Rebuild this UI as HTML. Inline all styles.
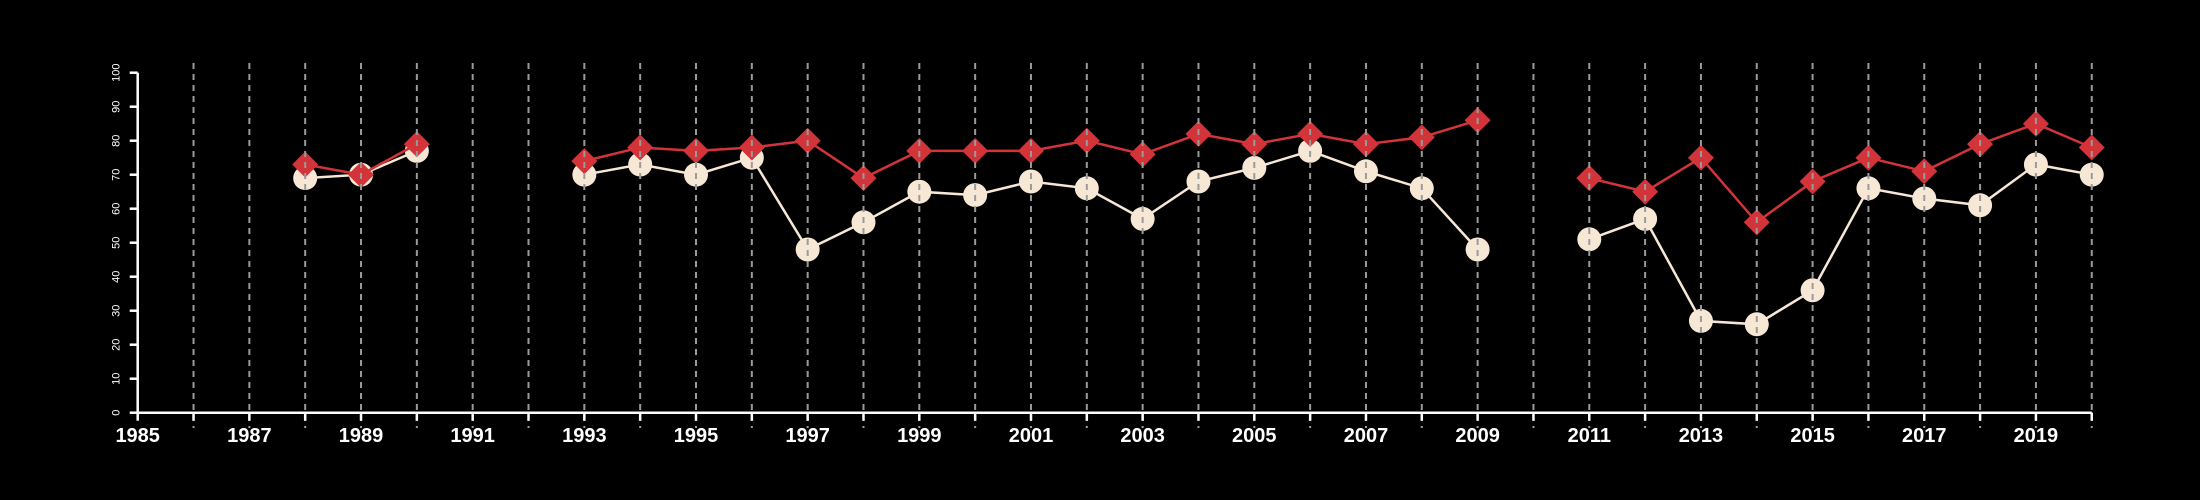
<!DOCTYPE html>
<html><head><meta charset="utf-8"><style>
html,body{margin:0;padding:0;background:#000;}
svg{display:block;font-family:"Liberation Sans",Arial,sans-serif;}
</style></head><body>
<svg id="chart" width="2200" height="500" viewBox="0 0 2200 500" xmlns="http://www.w3.org/2000/svg">
<rect width="2200" height="500" fill="#000"/>
<g id="series"></g>
<g id="grid"></g>
<g id="axes"></g>
</svg>
<script>
const years = [1985,1986,1987,1988,1989,1990,1991,1992,1993,1994,1995,1996,1997,1998,1999,2000,2001,2002,2003,2004,2005,2006,2007,2008,2009,2010,2011,2012,2013,2014,2015,2016,2017,2018,2019,2020];
const whiteSeries = [null,null,null,69,70,77,null,null,70,73,70,75,48,56,65,64,68,66,57,68,72,77,71,66,48,null,51,57,27,26,36,66,63,61,73,70];
const redSeries = [null,null,null,73,70,79,null,null,74,78,77,78,80,69,77,77,77,80,76,82,79,82,79,81,86,null,69,65,75,56,68,75,71,79,85,78];
const yTicks = [0,10,20,30,40,50,60,70,80,90,100];
const xLabels = [1985,1987,1989,1991,1993,1995,1997,1999,2001,2003,2005,2007,2009,2011,2013,2015,2017,2019];

const NS="http://www.w3.org/2000/svg";
const X0=137.7, XW=55.83, Y0=412.7, YS=3.4;
const xs = y => X0 + (y-1985)*XW;
const ys = v => Y0 - v*YS;
function mk(tag, attrs, parent){const e=document.createElementNS(NS,tag);for(const k in attrs)e.setAttribute(k,attrs[k]);parent.appendChild(e);return e;}
const gS=document.getElementById('series'), gG=document.getElementById('grid'), gA=document.getElementById('axes');

function drawSeries(vals, color, name, shape){
  let seg=[];
  const segs=[];
  vals.forEach((v,i)=>{ if(v==null){ if(seg.length)segs.push(seg); seg=[]; } else seg.push([xs(years[i]),ys(v)]); });
  if(seg.length)segs.push(seg);
  segs.forEach(s=>{
    const p=mk('polyline',{points:s.map(q=>q.join(',')).join(' '),fill:'none',stroke:color,'stroke-width':2.5},gS);
    
    
  });
  vals.forEach((v,i)=>{
    if(v==null)return;
    const cx=xs(years[i]), cy=ys(v);
    let m;
    if(shape==='circle') m=mk('circle',{cx:cx,cy:cy,r:12,fill:color},gS);
    else { const r=13; m=mk('polygon',{points:`${cx},${cy-r} ${cx+r},${cy} ${cx},${cy+r} ${cx-r},${cy}`,fill:color},gS); }
    
    
  });
}
drawSeries(whiteSeries,'#f7e8d6','white-series','circle');
drawSeries(redSeries,'#d2343a','red-series','diamond');

years.forEach(y=>{
  if(y===1985)return;
  const l=mk('line',{x1:xs(y),x2:xs(y),y1:63,y2:428,stroke:'#9a9a9a','stroke-width':2,'stroke-dasharray':'6,5'},gG);
  
  
});

const xa=mk('line',{x1:X0,x2:xs(2020),y1:Y0,y2:Y0,stroke:'#fff','stroke-width':2.5},gA);


const ya=mk('line',{x1:X0,x2:X0,y1:ys(0),y2:ys(100),stroke:'#fff','stroke-width':2.5},gA);


years.forEach(y=>{
  const t=mk('line',{x1:xs(y),x2:xs(y),y1:Y0,y2:Y0+8,stroke:'#fff','stroke-width':2.5},gA);
  
  
});
xLabels.forEach(y=>{
  const t=mk('text',{x:xs(y),y:442,fill:'#fff','font-size':20,'font-weight':'bold','text-anchor':'middle'},gA);
  t.textContent=y;
  
  
});
yTicks.forEach(v=>{
  const t=mk('line',{x1:X0-8,x2:X0,y1:ys(v),y2:ys(v),stroke:'#fff','stroke-width':2.5},gA);
  
  
  const tx=mk('text',{x:0,y:0,fill:'#fff','font-size':11,'text-anchor':'middle',transform:`translate(${X0-18},${ys(v)}) rotate(-90)`},gA);
  tx.textContent=v;
  
  
});
</script>
</body></html>
